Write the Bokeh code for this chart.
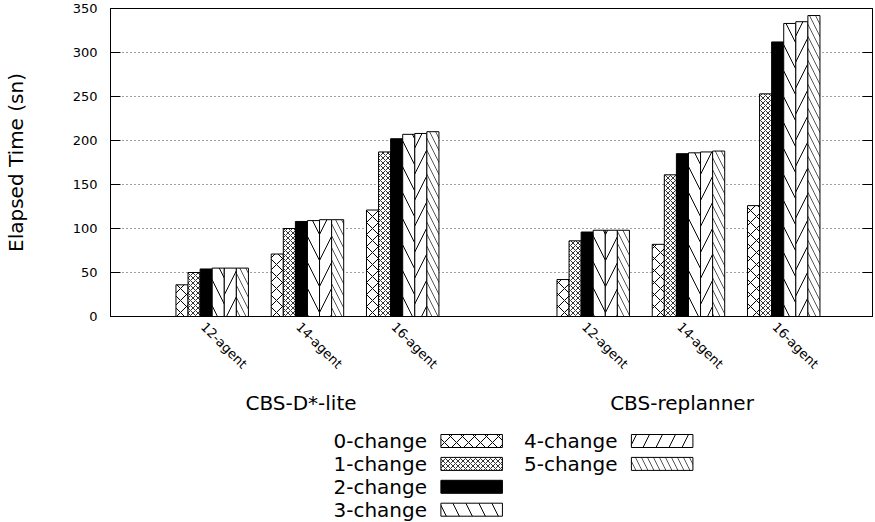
import math
from bokeh.plotting import figure
from bokeh.models import Range1d, FixedTicker, LinearAxis, ColumnDataSource, Grid
from bokeh.layouts import column
from bokeh.core.properties import value
from bokeh.embed import file_html
from bokeh.resources import INLINE

# ---------------- data ----------------
groups = ["CBS-D*-lite", "CBS-replanner"]
agents = ["12-agent", "14-agent", "16-agent"]
series = ["0-change", "1-change", "2-change", "3-change", "4-change", "5-change"]

# values per series, clusters ordered: D*-lite 12/14/16, replanner 12/14/16
change0 = [36, 71, 121, 42, 82, 126]
change1 = [50, 100, 187, 86, 161, 253]
change2 = [54, 108, 202, 96, 185, 312]
change3 = [55, 109, 207, 98, 186, 333]
change4 = [55, 110, 208, 98, 187, 335]
change5 = [55, 110, 210, 98, 188, 342]
values = [change0, change1, change2, change3, change4, change5]

y_ticks = [0, 50, 100, 150, 200, 250, 300, 350]

# ---------------- layout helpers ----------------
cluster_pos = [0, 1, 2, 4, 5, 6]
tick_labels = agents + agents
group_pos = [sum(cluster_pos[0:3]) / 3, sum(cluster_pos[3:6]) / 3]

FONT = "DejaVu Sans"
W = 875
H1 = 418
H2 = 522 - H1
LEFT = 104
RIGHT_B = 3
PX = 96.0                      # pixels per cluster unit
label_shift = -9 / PX          # gnuplot places rotated labels slightly left of the tick
group_shift = -6.5 / PX

styles = [
    dict(fill_color="white", hatch_pattern="x", hatch_scale=12, hatch_color="black"),
    dict(fill_color="white", hatch_pattern="x", hatch_scale=5, hatch_color="#333333"),
    dict(fill_color="black"),
    dict(fill_color="white", hatch_pattern="\\", hatch_scale=26, hatch_color="black"),
    dict(fill_color="white", hatch_pattern="/", hatch_scale=26, hatch_color="black"),
    dict(fill_color="white", hatch_pattern="\\", hatch_scale=12, hatch_color="#555555"),
]

p = figure(width=W, height=H1,
           x_range=Range1d(-1.0677, 6.932), y_range=Range1d(0, 350),
           x_axis_type=None, y_axis_type=None,
           output_backend="svg", toolbar_location=None,
           min_border_left=LEFT, min_border_right=RIGHT_B, min_border_top=8,
           min_border_bottom=H1 - 8 - 308)
p.outline_line_color = "black"
p.outline_line_width = 1
p.background_fill_color = "white"
p.border_fill_color = "white"

yticker = FixedTicker(ticks=y_ticks)
p.add_layout(Grid(dimension=1, ticker=yticker, grid_line_color="black",
                  grid_line_dash="1 3", grid_line_alpha=0.75))

yaxis = LinearAxis(ticker=yticker, major_tick_in=10, major_tick_out=0,
                   minor_tick_line_color=None, major_label_standoff=13,
                   major_label_text_font=FONT, major_label_text_font_size="13px",
                   major_label_text_color="black", axis_line_color="black",
                   major_tick_line_color="black",
                   axis_label="Elapsed Time (sn)", axis_label_standoff=42,
                   axis_label_text_font=FONT, axis_label_text_font_size="20px",
                   axis_label_text_font_style="normal", axis_label_text_color="black")
p.add_layout(yaxis, "left")

raxis = LinearAxis(ticker=yticker, major_tick_in=10, major_tick_out=0,
                   minor_tick_line_color=None, major_label_standoff=0,
                   major_label_overrides={t: "" for t in y_ticks},
                   axis_line_color="black", major_tick_line_color="black")
p.add_layout(raxis, "right")

xtick_pos = [c + label_shift for c in cluster_pos]
xaxis = LinearAxis(ticker=FixedTicker(ticks=xtick_pos),
                   major_label_overrides={c: t for c, t in zip(xtick_pos, tick_labels)},
                   major_label_orientation=-math.pi / 4,
                   major_tick_line_color=None, major_tick_in=0, major_tick_out=0,
                   minor_tick_line_color=None, major_label_standoff=8,
                   major_label_text_font=FONT, major_label_text_font_size="13px",
                   major_label_text_color="black", axis_line_color="black")
p.add_layout(xaxis, "below")

gtick_pos = [g + group_shift for g in group_pos]
gaxis = LinearAxis(ticker=FixedTicker(ticks=gtick_pos),
                   major_label_overrides={g: t for g, t in zip(gtick_pos, groups)},
                   major_tick_line_color=None, major_tick_in=0, major_tick_out=0,
                   minor_tick_line_color=None, major_label_standoff=11,
                   major_label_text_font=FONT, major_label_text_font_size="20px",
                   major_label_text_color="black", axis_line_color=None)
p.add_layout(gaxis, "below")

bw = 0.1268
for i, (name, vals) in enumerate(zip(series, values)):
    xs = [c + (i - 2.5) * bw for c in cluster_pos]
    src = ColumnDataSource(dict(x=xs, top=vals))
    p.vbar(x="x", top="top", bottom=0, width=bw, source=src,
           line_color="black", line_width=1, hatch_weight=1, **styles[i])

# ---------------- legend (gnuplot style: text then sample) ----------------
# coordinates of this panel are page pixels
p2 = figure(width=W, height=H2,
            x_range=Range1d(LEFT, W - RIGHT_B), y_range=Range1d(522, H1),
            x_axis_type=None, y_axis_type=None,
            output_backend="svg", toolbar_location=None,
            min_border_left=LEFT, min_border_right=RIGHT_B,
            min_border_top=0, min_border_bottom=0)
p2.outline_line_color = None
p2.background_fill_color = "white"
p2.border_fill_color = "white"

for i, name in enumerate(series):
    col, row = i // 4, i % 4
    ty = 440.5 + row * 22.9
    tx = 423 + col * 192
    p2.text(x=[tx], y=[ty], text=[name], text_align="right", text_baseline="middle",
            text_font=value(FONT), text_font_size=value("20px"), text_color="black")
    p2.quad(left=[tx + 14], right=[tx + 76], top=[ty - 6.5], bottom=[ty + 6.5],
            line_color="black", line_width=1, hatch_weight=1, **styles[i])

layout = column(p, p2)
open("out.html", "w").write(file_html(layout, INLINE))
